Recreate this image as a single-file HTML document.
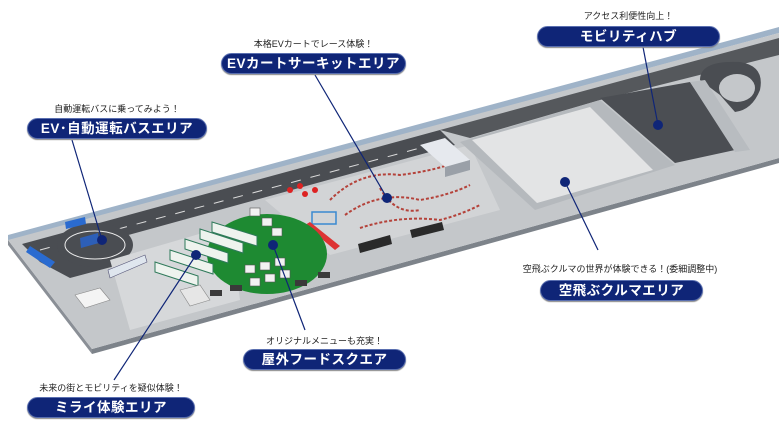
<!DOCTYPE html>
<html><head><meta charset="utf-8"><style>
html,body{margin:0;padding:0;background:#fff;}
body{width:779px;height:428px;overflow:hidden;position:relative;font-family:"Liberation Sans","Noto Sans CJK JP",sans-serif;}
.pill{position:absolute;height:21px;border-radius:11px;background:#0f2577;border:1px solid #5a6fb0;box-sizing:border-box;color:#fff;font-weight:bold;font-size:13.5px;line-height:19px;text-align:center;letter-spacing:0.5px;box-shadow:0 1px 1px #888;}
.sub{position:absolute;font-size:9px;color:#222;text-align:center;white-space:nowrap;}
svg{position:absolute;left:0;top:0;}
</style></head><body>
<svg width="779" height="428" viewBox="0 0 779 428">
<polygon points="8,235 779,27 779,33 8,241" fill="#9fb3c8"/>
<polygon points="8,240 92,349 92,354 8,245" fill="#8a8f96"/>
<polygon points="92,349 779,158 779,163 92,354" fill="#7d838a"/>
<polygon points="8,240 779,33 779,158 92,349" fill="#c4c7ca"/>
<polygon points="22,244 440,130 455,145 110,240 130,262 70,278 40,262" fill="#4a4d52"/>
<path d="M40,250 L420,148" stroke="#ddd" stroke-width="1" stroke-dasharray="10,10"/>
<ellipse cx="95" cy="245" rx="38" ry="22" fill="#4a4d52"/>
<ellipse cx="95" cy="245" rx="30" ry="14" fill="none" stroke="#eee" stroke-width="1"/>
<polygon points="80,238 98,233 99,243 81,248" fill="#2d5fb8"/>
<polygon points="30,246 55,262 50,268 26,252" fill="#2a6bd0"/>
<polygon points="65,222 85,217 86,224 66,229" fill="#2a6bd0"/>
<polygon points="440,130 779,38 779,55 600,100 470,138" fill="#55585c"/>
<path d="M700,80 Q700,60 740,62 Q765,66 760,90 Q752,110 735,112 L720,95 Z" fill="#4a4d52"/>
<ellipse cx="737" cy="88" rx="18" ry="14" fill="#c4c7ca"/>
<polygon points="265,200 470,145 500,210 330,255" fill="#d2d4d6"/>
<path d="M330,200 Q360,170 400,175 Q440,170 460,160 M345,215 Q380,190 420,200 Q450,195 470,185 M360,228 Q400,215 440,220 Q460,215 480,205 M380,188 Q395,215 420,210" fill="none" stroke="#b4423a" stroke-width="2" stroke-dasharray="3,2"/>
<g fill="#d22">
<circle cx="290" cy="190" r="3"/><circle cx="300" cy="186" r="3"/><circle cx="305" cy="194" r="3"/><circle cx="315" cy="190" r="3"/>
</g>
<rect x="312" y="212" width="24" height="12" fill="none" stroke="#3a8ad0" stroke-width="1.5"/>
<polygon points="305,225 335,250 340,246 310,222" fill="#d33"/>
<polygon points="358,244 390,235 392,244 360,253" fill="#2a2a2a"/>
<polygon points="410,230 442,222 444,230 412,238" fill="#2a2a2a"/>
<polygon points="420,145 445,138 470,160 445,167" fill="#e6e9ee"/>
<polygon points="445,167 470,160 470,170 445,177" fill="#9aa0a8"/>
<polygon points="460,142 600,100 675,165 535,210" fill="#b5b9bd"/>
<polygon points="472,140 590,107 653,170 537,203" fill="#e3e4e5"/>
<polygon points="600,98 690,82 735,150 675,163" fill="#4b4e53"/>
<polygon points="690,82 705,80 750,150 735,152" fill="#b8bcc0"/>
<polygon points="110,260 230,225 240,300 130,330" fill="#d6d8da"/>
<ellipse cx="267" cy="254" rx="60" ry="40" fill="#1e8a32"/>
<g fill="#f2f2f2" stroke="#555" stroke-width="0.6">
<rect x="245" y="265" width="10" height="8"/><rect x="260" y="262" width="10" height="8"/><rect x="275" y="258" width="10" height="8"/><rect x="250" y="278" width="10" height="8"/><rect x="265" y="274" width="10" height="8"/><rect x="280" y="270" width="10" height="8"/>
<rect x="250" y="208" width="10" height="8"/><rect x="262" y="218" width="10" height="8"/><rect x="272" y="228" width="10" height="8"/>
</g>
<g fill="#eef3ee" stroke="#2f7a5a" stroke-width="1">
<polygon points="155,262 198,276 198,286 155,272"/>
<polygon points="170,250 213,264 213,274 170,260"/>
<polygon points="185,239 228,253 228,263 185,249"/>
<polygon points="200,229 243,243 243,253 200,239"/>
<polygon points="212,222 257,236 257,246 212,232"/>
</g>
<polygon points="108,270 145,255 147,262 110,278" fill="#dfe6ee" stroke="#557" stroke-width="0.6"/>
<polygon points="75,295 100,288 110,300 85,308" fill="#f4f4f4" stroke="#888" stroke-width="0.6"/>
<polygon points="180,290 200,285 210,300 190,306" fill="#e6e6e6" stroke="#888" stroke-width="0.6"/>
<g fill="#3a3a3a">
<rect x="210" y="290" width="12" height="6"/><rect x="230" y="285" width="12" height="6"/><rect x="295" y="280" width="12" height="6"/><rect x="318" y="272" width="12" height="6"/>
</g>
<g stroke="#0f2577" stroke-width="1.2" fill="none">
<line x1="72" y1="140" x2="102" y2="240"/>
<line x1="315" y1="75" x2="387" y2="198"/>
<line x1="643" y1="47" x2="658" y2="125"/>
<line x1="598" y1="250" x2="565" y2="182"/>
<line x1="305" y1="330" x2="273" y2="245"/>
<line x1="114" y1="380" x2="196" y2="255"/>
</g>
<g fill="#0f2577">
<circle cx="102" cy="240" r="5"/><circle cx="387" cy="198" r="5"/><circle cx="658" cy="125" r="5"/>
<circle cx="565" cy="182" r="5"/><circle cx="273" cy="245" r="5"/><circle cx="196" cy="255" r="5"/>
</g>
</svg>
<div class="sub" style="left:27px;top:102px;width:180px;">自動運転バスに乗ってみよう！</div>
<div class="pill" style="left:27px;top:118px;width:180px;">EV･自動運転バスエリア</div>
<div class="sub" style="left:221px;top:37px;width:185px;">本格EVカートでレース体験！</div>
<div class="pill" style="left:221px;top:53px;width:185px;">EVカートサーキットエリア</div>
<div class="sub" style="left:537px;top:9px;width:183px;">アクセス利便性向上！</div>
<div class="pill" style="left:537px;top:26px;width:183px;">モビリティハブ</div>
<div class="sub" style="left:500px;top:262px;width:240px;">空飛ぶクルマの世界が体験できる！(委細調整中)</div>
<div class="pill" style="left:540px;top:280px;width:163px;">空飛ぶクルマエリア</div>
<div class="sub" style="left:243px;top:334px;width:163px;">オリジナルメニューも充実！</div>
<div class="pill" style="left:243px;top:349px;width:163px;">屋外フードスクエア</div>
<div class="sub" style="left:27px;top:381px;width:168px;">未来の街とモビリティを疑似体験！</div>
<div class="pill" style="left:27px;top:397px;width:168px;">ミライ体験エリア</div>
</body></html>
